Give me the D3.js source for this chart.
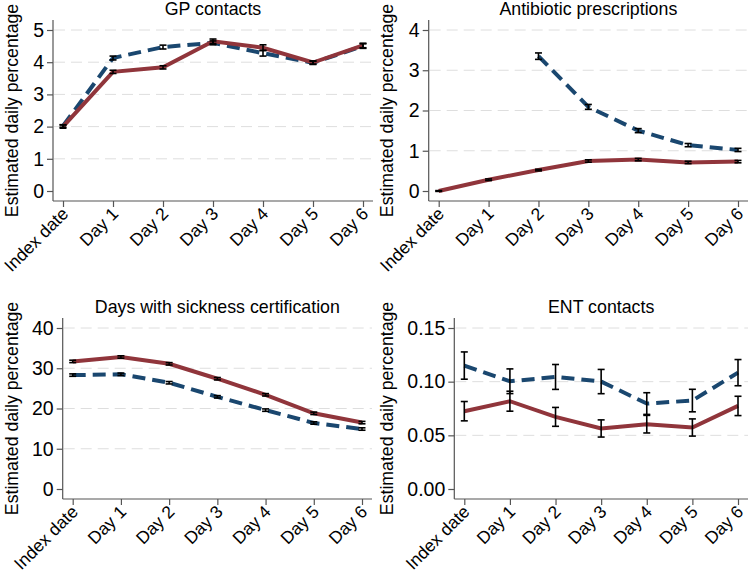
<!DOCTYPE html>
<html>
<head>
<meta charset="utf-8">
<script src="https://cdn.jsdelivr.net/npm/d3@7"></script>
<style>
  body { margin: 0; background: #fff; }
  .chart text { font-family: "Liberation Sans", Arial, sans-serif; fill: #000; }
</style>
</head>
<body>
<div class="chart"></div>
<script>
// categories
const days = ["Index date", "Day 1", "Day 2", "Day 3", "Day 4", "Day 5", "Day 6"];

// GP contacts
const gpSolid = [2.0, 3.70, 3.84, 4.65, 4.45, 3.99, 4.52];
const gpSolidErr = [0.05, 0.05, 0.05, 0.07, 0.09, 0.05, 0.07];
const gpDashed = [2.02, 4.13, 4.47, 4.60, 4.28, 3.98, 4.50];
const gpDashedErr = [0.04, 0.06, 0.06, 0.06, 0.09, 0.05, 0.07];

// Antibiotic prescriptions (dashed series starts on day 2)
const abSolid = [0.0, 0.28, 0.52, 0.745, 0.78, 0.71, 0.73];
const abSolidErr = [0.01, 0.02, 0.02, 0.03, 0.03, 0.03, 0.03];
const abDashed = [null, null, 3.35, 2.09, 1.50, 1.14, 1.02];
const abDashedErr = [null, null, 0.08, 0.06, 0.05, 0.04, 0.04];

// Days with sickness certification
const scSolid = [31.7, 32.8, 31.1, 27.4, 23.4, 18.8, 16.5];
const scSolidErr = [0.3, 0.3, 0.3, 0.3, 0.3, 0.3, 0.3];
const scDashed = [28.3, 28.5, 26.4, 22.9, 19.6, 16.4, 14.9];
const scDashedErr = [0.3, 0.3, 0.3, 0.3, 0.3, 0.3, 0.3];

// ENT contacts
const entSolid = [0.0725, 0.0818, 0.0672, 0.0564, 0.0604, 0.0573, 0.0774];
const entSolidErr = [0.0090, 0.0093, 0.0088, 0.0080, 0.0082, 0.0080, 0.0090];
const entDashed = [0.115, 0.1004, 0.1044, 0.1001, 0.0796, 0.0824, 0.1084];
const entDashedErr = [0.0127, 0.0115, 0.0116, 0.0113, 0.0101, 0.0105, 0.0122];

const titles = ["GP contacts", "Antibiotic prescriptions", "Days with sickness certification", "ENT contacts"];
const yTicks = [[0, 1, 2, 3, 4, 5], [0, 1, 2, 3, 4], [0, 10, 20, 30, 40], [0, 0.05, 0.10, 0.15]];
const yLabel = "Estimated daily percentage";

const panels = [
  {left: 0, axisX: 53, right: 373, top: 20, bottom: 201, solid: gpSolid, solidErr: gpSolidErr, dashed: gpDashed, dashedErr: gpDashedErr, fmt: d3.format("d")},
  {left: 375, axisX: 428.7, right: 748, top: 20, bottom: 201, solid: abSolid, solidErr: abSolidErr, dashed: abDashed, dashedErr: abDashedErr, fmt: d3.format("d")},
  {left: 0, axisX: 62.7, right: 372, top: 318, bottom: 499, solid: scSolid, solidErr: scSolidErr, dashed: scDashed, dashedErr: scDashedErr, fmt: d3.format("d")},
  {left: 375, axisX: 454.3, right: 748, top: 318, bottom: 499, solid: entSolid, solidErr: entSolidErr, dashed: entDashed, dashedErr: entDashedErr, fmt: d3.format(".2f")}
];

const width = 750;
const height = 573;
const red = "#90353b";
const navy = "#1a476f";
const axisColor = "#555";

const svg = d3.select('.chart')
  .append('svg')
  .attr('width', width)
  .attr('height', height);

panels.forEach((p, k) => {
  const g = svg.append("g");

  const xScale = d3.scalePoint()
    .domain(days)
    .range([p.axisX + 10, p.right - 10]);

  const ticks = yTicks[k];
  const yScale = d3.scaleLinear()
    .domain([0, ticks[ticks.length - 1]])
    .range([p.bottom - 10, p.top + 10]);

  // dashed gridlines (not at zero)
  g.append("g")
    .selectAll("line")
    .data(ticks.filter(t => t !== 0))
    .enter()
    .append("line")
      .attr("x1", p.axisX + 1)
      .attr("x2", p.right)
      .attr("y1", d => yScale(d))
      .attr("y2", d => yScale(d))
      .attr("stroke", "#dedede")
      .attr("stroke-width", 1)
      .attr("stroke-dasharray", "11,6");

  // y axis
  const yAxis = d3.axisLeft(yScale)
    .tickValues(ticks)
    .tickFormat(p.fmt)
    .tickSize(6)
    .tickPadding(3);
  const ya = g.append("g")
    .attr("class", "axis y-axis")
    .attr("transform", `translate(${p.axisX}, 0)`)
    .call(yAxis);
  ya.select(".domain").remove();
  ya.append("line")
    .attr("x1", 0).attr("x2", 0)
    .attr("y1", p.top).attr("y2", p.bottom);
  ya.selectAll("line").attr("stroke", axisColor).attr("stroke-width", 1.2);
  ya.selectAll("text").style("font-size", "19.5px").attr("fill", "#000");

  // x axis
  const xAxis = d3.axisBottom(xScale)
    .tickSize(6)
    .tickSizeOuter(0);
  const xa = g.append("g")
    .attr("class", "axis x-axis")
    .attr("transform", `translate(0, ${p.bottom})`)
    .call(xAxis);
  xa.select(".domain").remove();
  xa.append("line")
    .attr("x1", p.axisX).attr("x2", p.right)
    .attr("y1", 0).attr("y2", 0);
  xa.selectAll("line").attr("stroke", axisColor).attr("stroke-width", 1.2);
  xa.selectAll(".tick text")
    .style("font-size", "17.5px")
    .attr("fill", "#000")
    .attr("text-anchor", "end")
    .attr("y", 0)
    .attr("dy", "0.72em")
    .attr("transform", "translate(-3, 5) rotate(-45)");

  // title
  g.append("text")
    .attr("x", (p.axisX + p.right) / 2)
    .attr("y", p.top - 5)
    .attr("text-anchor", "middle")
    .style("font-size", "17.8px")
    .text(titles[k]);

  // y label
  g.append("text")
    .attr("transform", `translate(${p.left + 18}, ${(p.top + p.bottom) / 2}) rotate(-90)`)
    .attr("text-anchor", "middle")
    .style("font-size", "17.7px")
    .text(yLabel);

  const line = d3.line()
    .defined(d => d[1] !== null)
    .x(d => xScale(d[0]))
    .y(d => yScale(d[1]));

  g.append("path")
    .datum(days.map((d, i) => [d, p.dashed[i]]))
    .attr("d", line)
    .attr("fill", "none")
    .attr("stroke", navy)
    .attr("stroke-width", 4)
    .attr("stroke-dasharray", "13,7");

  g.append("path")
    .datum(days.map((d, i) => [d, p.solid[i]]))
    .attr("d", line)
    .attr("fill", "none")
    .attr("stroke", red)
    .attr("stroke-width", 4);

  // error bars
  const bars = [];
  days.forEach((d, i) => {
    if (p.dashed[i] !== null) bars.push({day: d, v: p.dashed[i], e: p.dashedErr[i]});
    bars.push({day: d, v: p.solid[i], e: p.solidErr[i]});
  });
  const eb = g.append("g")
    .selectAll("g")
    .data(bars)
    .enter()
    .append("g")
    .attr("stroke", "#000")
    .attr("stroke-width", 1.6);
  eb.append("line")
    .attr("x1", d => xScale(d.day)).attr("x2", d => xScale(d.day))
    .attr("y1", d => yScale(d.v - d.e)).attr("y2", d => yScale(d.v + d.e));
  eb.append("line")
    .attr("x1", d => xScale(d.day) - 3.5).attr("x2", d => xScale(d.day) + 3.5)
    .attr("y1", d => yScale(d.v - d.e)).attr("y2", d => yScale(d.v - d.e));
  eb.append("line")
    .attr("x1", d => xScale(d.day) - 3.5).attr("x2", d => xScale(d.day) + 3.5)
    .attr("y1", d => yScale(d.v + d.e)).attr("y2", d => yScale(d.v + d.e));
});
</script>
</body>
</html>
